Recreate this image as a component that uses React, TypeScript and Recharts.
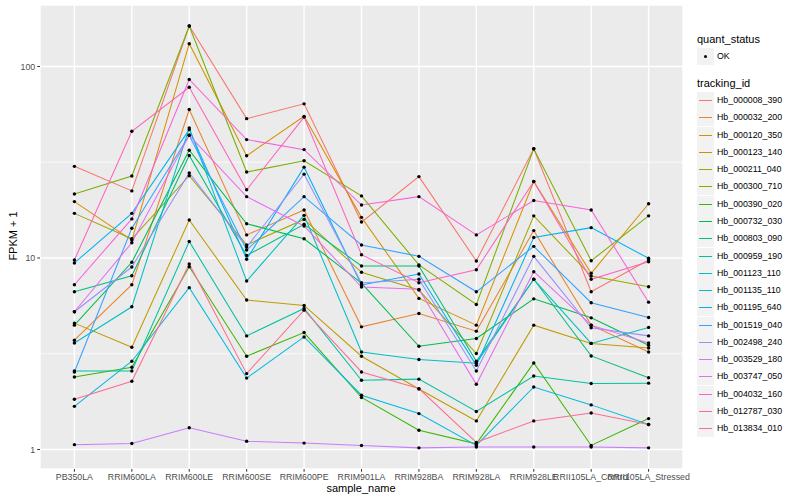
import React from 'react';
import { LineChart, Line, XAxis, YAxis, CartesianGrid } from 'recharts';

const categories = [
  'PB350LA', 'RRIM600LA', 'RRIM600LE', 'RRIM600SE', 'RRIM600PE', 'RRIM901LA',
  'RRIM928BA', 'RRIM928LA', 'RRIM928LE', 'RRII105LA_Control', 'RRII105LA_Stressed',
];

const trackingIds = [
  'Hb_000008_390', 'Hb_000032_200', 'Hb_000120_350', 'Hb_000123_140', 'Hb_000211_040',
  'Hb_000300_710', 'Hb_000390_020', 'Hb_000732_030', 'Hb_000803_090', 'Hb_000959_190',
  'Hb_001123_110', 'Hb_001135_110', 'Hb_001195_640', 'Hb_001519_040', 'Hb_002498_240',
  'Hb_003529_180', 'Hb_003747_050', 'Hb_004032_160', 'Hb_012787_030', 'Hb_013834_010',
];

const colors = [
  '#F8766D', '#EA8331', '#D89000', '#C09B00', '#A3A500', '#7CAE00', '#39B600', '#00BB4E',
  '#00BF7D', '#00C1A3', '#00BFC4', '#00BAE0', '#00B0F6', '#35A2FF', '#9590FF', '#C77CFF',
  '#E76BF3', '#FA62DB', '#FF62BC', '#FF6C91',
];

// FPKM + 1 values, one per sample (order of categories)
const hb000008_390 = [30.1, 22.4, 162.6, 53.4, 63.8, 15.4, 26.6, 9.65, 37.2, 6.66, 9.76];
const hb000032_200 = [3.72, 7.25, 59.6, 13.2, 17.8, 4.37, 5.13, 4.15, 13.9, 4.46, 3.23];
const hb000120_350 = [19.7, 12.4, 131.5, 34.2, 54.9, 16.3, 6.15, 4.46, 25.1, 8.32, 19.2];
const hb000123_140 = [4.57, 3.42, 15.8, 6.03, 5.65, 3.07, 2.07, 1.41, 4.46, 3.58, 3.39];
const hb000211_040 = [17.1, 12.6, 26.9, 11.7, 15.9, 8.42, 6.8, 3.17, 16.6, 8.05, 7.07];
const hb000300_710 = [21.6, 26.8, 162.6, 28.1, 32.2, 21.1, 9.2, 5.72, 37.2, 9.68, 16.6];
const hb000390_020 = [2.39, 2.69, 9.0, 3.07, 4.08, 1.87, 1.26, 1.07, 2.83, 1.05, 1.45];
const hb000732_030 = [4.46, 9.5, 36.5, 15.1, 12.6, 7.4, 3.46, 3.8, 6.12, 4.87, 3.5];
const hb000803_090 = [6.66, 8.08, 34.3, 10.3, 15.0, 9.08, 9.08, 2.89, 7.74, 3.08, 2.37];
const hb000959_190 = [2.57, 2.57, 12.2, 3.92, 5.45, 2.3, 2.33, 1.58, 2.42, 2.21, 2.22];
const hb001123_110 = [3.6, 5.56, 47.8, 7.58, 16.7, 3.23, 2.95, 2.82, 7.74, 3.58, 4.34];
const hb001135_110 = [1.68, 2.89, 7.0, 2.36, 3.87, 1.92, 1.54, 1.05, 2.12, 1.71, 1.35];
const hb001195_640 = [9.42, 17.1, 46.8, 9.85, 29.8, 7.23, 8.25, 2.75, 12.8, 14.4, 9.96];
const hb001519_040 = [2.54, 14.3, 43.7, 11.0, 20.9, 11.7, 10.2, 6.66, 11.5, 5.84, 4.89];
const hb002498_240 = [5.24, 8.97, 27.8, 11.4, 27.4, 7.4, 7.74, 2.57, 10.2, 4.32, 3.92];
const hb003529_180 = [1.06, 1.075, 1.3, 1.105, 1.08, 1.05, 1.02, 1.03, 1.03, 1.03, 1.02];
const hb003747_050 = [5.24, 12.0, 43.7, 20.9, 14.7, 7.05, 6.86, 2.19, 8.48, 4.46, 3.6];
const hb004032_160 = [7.25, 16.0, 85.5, 41.5, 36.8, 18.9, 20.9, 13.2, 19.95, 17.8, 5.88];
const hb012787_030 = [9.76, 45.9, 77.9, 22.7, 54.4, 10.4, 7.42, 8.68, 25.1, 7.74, 9.56];
const hb013834_010 = [1.83, 2.27, 9.3, 2.49, 5.34, 2.54, 2.08, 1.09, 1.41, 1.55, 1.35];

const seriesValues = [
  hb000008_390, hb000032_200, hb000120_350, hb000123_140, hb000211_040,
  hb000300_710, hb000390_020, hb000732_030, hb000803_090, hb000959_190,
  hb001123_110, hb001135_110, hb001195_640, hb001519_040, hb002498_240,
  hb003529_180, hb003747_050, hb004032_160, hb012787_030, hb013834_010,
];

const majorTicks = [1, 10, 100];
const minorTicks = [3.1623, 31.623];
const yDomain = [0.791, 209.4];

const data = categories.map((name, i) => {
  const row: Record<string, number | string> = { name };
  trackingIds.forEach((id, s) => {
    row[id] = seriesValues[s][i];
  });
  return row;
});

const FONT = '"Liberation Sans", Arial, Helvetica, sans-serif';

export default function App() {
  return (
    <div style={{ position: 'absolute', left: 0, top: 0, width: 800, height: 500, background: '#fff', fontFamily: FONT }}>
      <LineChart width={800} height={500} data={data} margin={{ top: 5, right: 117, bottom: 0, left: 10 }}>
        <CartesianGrid fill="#EBEBEB" stroke="#FFFFFF" strokeWidth={0.7} vertical={false} horizontalValues={minorTicks} />
        <CartesianGrid stroke="#FFFFFF" strokeWidth={1.4} />
        <XAxis
          dataKey="name"
          interval={0}
          padding={{ left: 34.4, right: 34.4 }}
          axisLine={false}
          tickSize={2.75}
          tickLine={{ stroke: '#333333', strokeWidth: 1 }}
          tick={{ fontSize: 8.8, fill: '#4D4D4D', fontFamily: FONT }}
          height={31}
        />
        <YAxis
          scale="log"
          domain={yDomain}
          allowDataOverflow
          ticks={majorTicks}
          width={30}
          axisLine={false}
          tickSize={2.75}
          tickLine={{ stroke: '#333333', strokeWidth: 1 }}
          tick={{ fontSize: 8.8, fill: '#4D4D4D', fontFamily: FONT }}
        />
        {trackingIds.map((id, s) => (
          <Line
            key={id}
            type="linear"
            dataKey={id}
            stroke={colors[s]}
            strokeWidth={1.05}
            dot={{ r: 1.7, fill: '#000', stroke: 'none' }}
            activeDot={false}
            isAnimationActive={false}
          />
        ))}
      </LineChart>

      {/* axis titles */}
      <div style={{ position: 'absolute', left: 311, width: 100, top: 482, textAlign: 'center', fontSize: 11, color: '#000' }}>
        sample_name
      </div>
      <div style={{ position: 'absolute', left: -37, top: 230, width: 100, textAlign: 'center', fontSize: 11, color: '#000', transform: 'rotate(-90deg)' }}>
        FPKM + 1
      </div>

      {/* legend */}
      <div style={{ position: 'absolute', left: 697, top: 33, fontSize: 11, color: '#000' }}>quant_status</div>
      <div style={{ position: 'absolute', left: 697, top: 48, width: 17, height: 17, background: '#F2F2F2' }}>
        <div style={{ position: 'absolute', left: 7, top: 7, width: 3.4, height: 3.4, borderRadius: '50%', background: '#000' }} />
      </div>
      <div style={{ position: 'absolute', left: 717, top: 51, fontSize: 8.8, color: '#000' }}>OK</div>

      <div style={{ position: 'absolute', left: 697, top: 77, fontSize: 11, color: '#000' }}>tracking_id</div>
      {trackingIds.map((id, s) => {
        const top = Math.round(92 + s * 17.28);
        return (
          <React.Fragment key={id}>
            <div style={{ position: 'absolute', left: 697, top, width: 17, height: 17, background: '#F2F2F2' }}>
              <div style={{ position: 'absolute', left: 2, width: 13, top: 8, height: 1, background: colors[s] }} />
            </div>
            <div style={{ position: 'absolute', left: 717, top: top + 3, fontSize: 8.8, color: '#000', whiteSpace: 'nowrap' }}>{id}</div>
          </React.Fragment>
        );
      })}
    </div>
  );
}
